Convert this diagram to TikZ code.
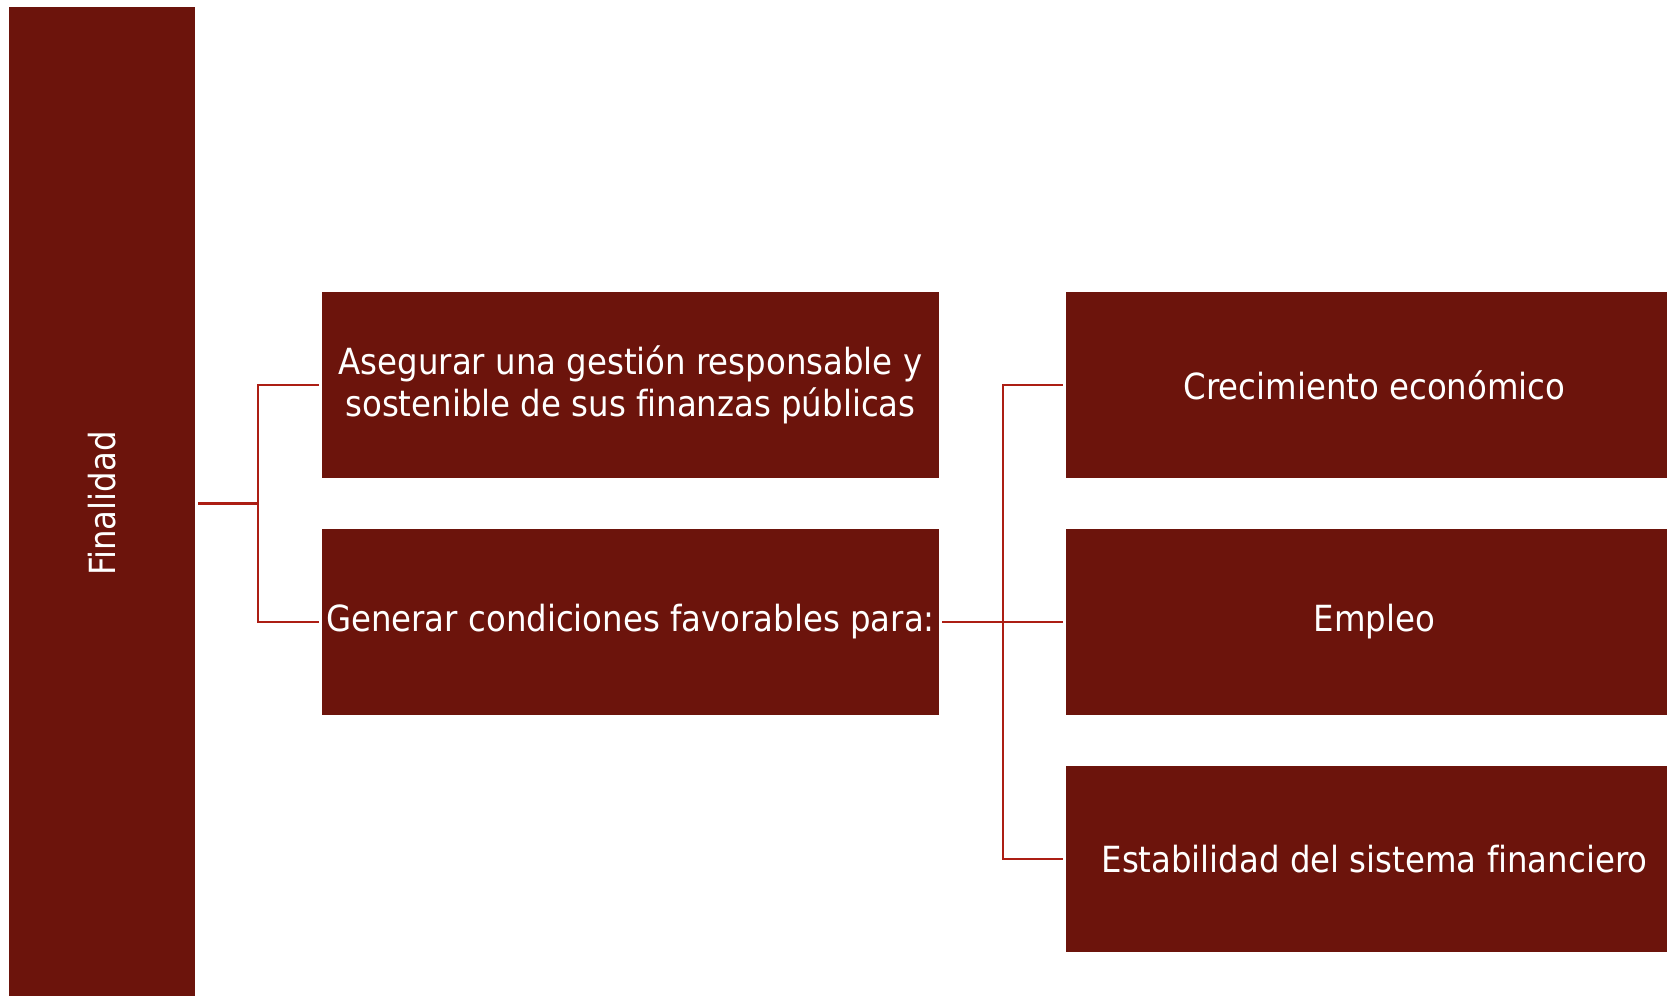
\documentclass[tikz,border=0pt]{standalone}
\usepackage{fontspec}
\setmainfont[Ligatures=NoCommon]{DejaVu Sans Condensed}
\usepackage{tikz}
\usetikzlibrary{positioning}

\definecolor{boxred}{RGB}{108,20,12}
\definecolor{linered}{RGB}{172,30,20}

\tikzset{
  block/.style={rectangle, fill=boxred, text=white, align=center, inner sep=0pt,
    minimum width=370.2pt, minimum height=111.6pt,
    font=\fontsize{21.6}{24.9}\selectfont},
  link/.style={draw=linered, line width=1.4pt}
}

\begin{document}
\begin{tikzpicture}[x=0.6pt,y=-0.6pt,node distance=142.2pt,on grid]
\path[use as bounding box,clip] (0,0) rectangle (1667,995);

\node[block, minimum width=111.8pt, minimum height=595.4pt] (f_0) at (101.8,503.5)
  {\rotatebox{90}{Finalidad}};

\node[block] (m_1) at (630.5,385) {Asegurar una gestión responsable y\\sostenible de sus finanzas públicas};
\node[block] (m_2) [below=of m_1] {Generar condiciones favorables para:};

\node[block] (r_1) [right=446.4pt of m_1] {Crecimiento económico};
\node[block] (r_2) [below=of r_1] {Empleo};
\node[block] (r_3) [below=of r_2] {Estabilidad del sistema financiero};

\coordinate (c_1) at (258,503.5);
\coordinate (c_2) at (1002.7,622);

\draw[link, shorten <=1.8pt] (f_0.east) -- (c_1);
\draw[link, shorten >=1.8pt] (c_1) |- (m_1.west);
\draw[link, shorten >=1.8pt] (c_1) |- (m_2.west);

\draw[link, shorten <=1.8pt, shorten >=1.8pt] (m_2.east) -- (r_2.west);
\draw[link, shorten <=1.8pt, shorten >=1.8pt] (r_1.west) -| (c_2) |- (r_3.west);
\end{tikzpicture}
\end{document}
